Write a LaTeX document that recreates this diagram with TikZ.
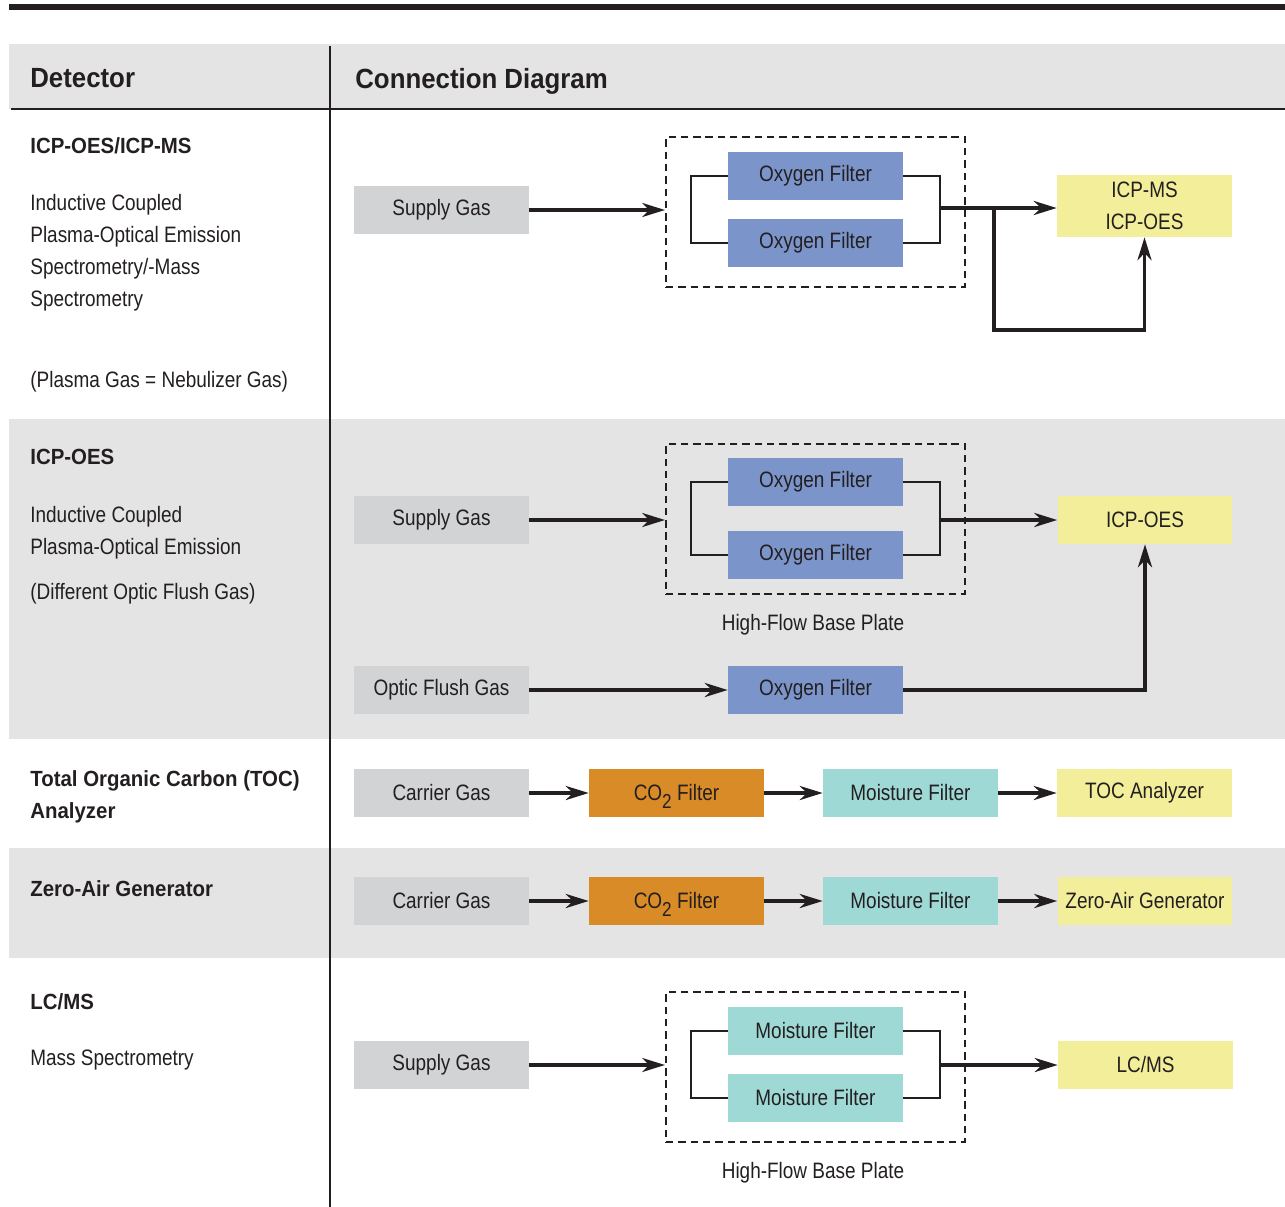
\documentclass[tikz,border=0pt]{standalone}
\usepackage{fontspec}
\setmainfont{Liberation Sans}[FakeStretch=0.85, BoldFeatures={FakeStretch=0.93}]
\usepackage{xcolor}
\usepackage{tikz}
\usetikzlibrary{arrows.meta}
\definecolor{ink}{HTML}{231F20}
\definecolor{band}{HTML}{E4E4E4}
\definecolor{gasgray}{HTML}{D1D3D4}
\definecolor{oxblue}{HTML}{7B95CB}
\definecolor{cotwo}{HTML}{D98B27}
\definecolor{moist}{HTML}{9FD9D6}
\definecolor{det}{HTML}{F2EE99}
\newcommand{\boxfont}{\fontsize{12.7}{18.2}\selectfont}
\newcommand{\headfont}{\fontsize{15.8}{20}\selectfont\bfseries}
\newcommand{\COtwo}{CO\smash{\raisebox{-0.32em}{\fontsize{11.5}{11.5}\selectfont 2}}}
\tikzset{
  cell/.style={inner sep=0pt, text=ink, font=\boxfont, minimum width=3.5cm, minimum height=0.96cm},
  gasbox/.style={cell, fill=gasgray},
  oxbox/.style={cell, fill=oxblue},
  cobox/.style={cell, fill=cotwo},
  moistbox/.style={cell, fill=moist},
  detbox/.style={cell, fill=det},
  plate/.style={draw=ink, dash pattern=on 4.2pt off 2.8pt, line width=1.2pt, minimum width=5.98cm, minimum height=3cm, inner sep=0pt},
  flow/.style={draw=ink, line width=1.9pt, -{Stealth[length=13pt, width=8pt, inset=4pt]}},
  pipe/.style={draw=ink, line width=1.3pt},
  rule/.style={draw=ink, line width=1.4pt},
  lab/.style={anchor=north west, inner sep=0pt, text=ink, font=\boxfont, align=left},
  boldlab/.style={lab, font=\fontsize{12.5}{18.2}\selectfont\bfseries},
  head/.style={anchor=north west, inner sep=0pt, text=ink, font=\headfont},
  note/.style={text=ink, font=\boxfont, inner sep=0pt}
}

\begin{document}
\begin{tikzpicture}[x=0.02cm, y=-0.02cm, line join=miter]
  \useasboundingbox (0,0) rectangle (1285,1207);
  % bands and table rules
  \fill[ink] (9,4) rectangle (1285,10);
  \fill[band] (9,44) rectangle (1285,109);
  \fill[band] (9,419) rectangle (1285,739);
  \fill[band] (9,848) rectangle (1285,958);
  \draw[rule] (11,109) -- (1285,109);
  \draw[rule] (330,46) -- (330,1207);
  \node[head] (hdet) at (30,68) {Detector};
  \node[head] (hcon) at (355,68) {Connection Diagram};

  % ICP-OES/ICP-MS
  \node[boldlab] (t1) at (30,137) {ICP-OES/ICP-MS};
  \node[lab] (d1) at (30,194) {Inductive Coupled\\Plasma-Optical Emission\\Spectrometry/-Mass\\Spectrometry};
  \node[lab] (n1) at (30,371) {(Plasma Gas = Nebulizer Gas)};
  \node[gasbox] (sup1) at (441.5,210) {Supply Gas};
  \node[plate] (plate1) at (815.5,212) {};
  \node[oxbox] (ox1a) at (815.5,176) {Oxygen Filter};
  \node[oxbox] (ox1b) at (815.5,243) {Oxygen Filter};
  \node[detbox, minimum height=1.24cm, align=center] (icp1) at (1144.5,206) {ICP-MS\\ICP-OES};
  \coordinate (in1) at (691,210);
  \coordinate (out1) at (940,208);
  \coordinate (tap1) at (994,208);
  \coordinate (loop1) at (994,330);
  \draw[flow] (sup1.east) -- (sup1.east -| plate1.west);
  \draw[pipe] (ox1a.west) -| (in1) |- (ox1b.west);
  \draw[pipe] (ox1a.east) -| (out1) |- (ox1b.east);
  \draw[flow] (out1) -- (out1 -| icp1.west);
  \draw[flow] (tap1) -- (loop1) -| (icp1.south);

  % ICP-OES
  \node[boldlab] (t2) at (30,449) {ICP-OES};
  \node[lab] (d2) at (30,506) {Inductive Coupled\\Plasma-Optical Emission};
  \node[lab] (n2) at (30,583) {(Different Optic Flush Gas)};
  \node[gasbox] (sup2) at (441.5,520) {Supply Gas};
  \node[plate] (plate2) at (815.5,519) {};
  \node[oxbox] (ox2a) at (815.5,482) {Oxygen Filter};
  \node[oxbox] (ox2b) at (815.5,555) {Oxygen Filter};
  \node[detbox] (icp2) at (1145,520) {ICP-OES};
  \node[note] (base2) at (813,625) {High-Flow Base Plate};
  \coordinate (in2) at (691,520);
  \coordinate (out2) at (940,520);
  \draw[flow] (sup2.east) -- (sup2.east -| plate2.west);
  \draw[pipe] (ox2a.west) -| (in2) |- (ox2b.west);
  \draw[pipe] (ox2a.east) -| (out2) |- (ox2b.east);
  \draw[flow] (out2) -- (icp2.west);
  \node[gasbox] (opt) at (441.5,690) {Optic Flush Gas};
  \node[oxbox] (ox2c) at (815.5,690) {Oxygen Filter};
  \draw[flow] (opt) -- (ox2c);
  \draw[flow] (ox2c.east) -| (icp2.south);

  % TOC
  \node[boldlab] (t3) at (30,770) {Total Organic Carbon (TOC)\\Analyzer};
  \node[gasbox] (car3) at (441.5,793) {Carrier Gas};
  \node[cobox] (co3) at (676.5,793) {\COtwo\ Filter};
  \node[moistbox] (moi3) at (910.5,793) {Moisture Filter};
  \node[detbox] (toc) at (1144.5,793) {TOC Analyzer};
  \draw[flow] (car3) -- (co3);
  \draw[flow] (co3) -- (moi3);
  \draw[flow] (moi3) -- (toc);

  % Zero-Air Generator
  \node[boldlab] (t4) at (30,880) {Zero-Air Generator};
  \node[gasbox] (car4) at (441.5,901) {Carrier Gas};
  \node[cobox] (co4) at (676.5,901) {\COtwo\ Filter};
  \node[moistbox] (moi4) at (910.5,901) {Moisture Filter};
  \node[detbox] (zag) at (1145,901) {Zero-Air Generator};
  \draw[flow] (car4) -- (co4);
  \draw[flow] (co4) -- (moi4);
  \draw[flow] (moi4) -- (zag);

  % LC/MS
  \node[boldlab] (t5) at (30,993) {LC/MS};
  \node[lab] (d5) at (30,1050) {Mass Spectrometry};
  \node[gasbox] (sup5) at (441.5,1065) {Supply Gas};
  \node[plate] (plate5) at (815.5,1067) {};
  \node[moistbox] (moi5a) at (815.5,1031) {Moisture Filter};
  \node[moistbox] (moi5b) at (815.5,1098) {Moisture Filter};
  \node[detbox] (lcms) at (1145.5,1065) {LC/MS};
  \node[note] (base5) at (813,1173) {High-Flow Base Plate};
  \coordinate (in5) at (691,1065);
  \coordinate (out5) at (940,1065);
  \draw[flow] (sup5.east) -- (sup5.east -| plate5.west);
  \draw[pipe] (moi5a.west) -| (in5) |- (moi5b.west);
  \draw[pipe] (moi5a.east) -| (out5) |- (moi5b.east);
  \draw[flow] (out5) -- (lcms.west);
\end{tikzpicture}
\end{document}
